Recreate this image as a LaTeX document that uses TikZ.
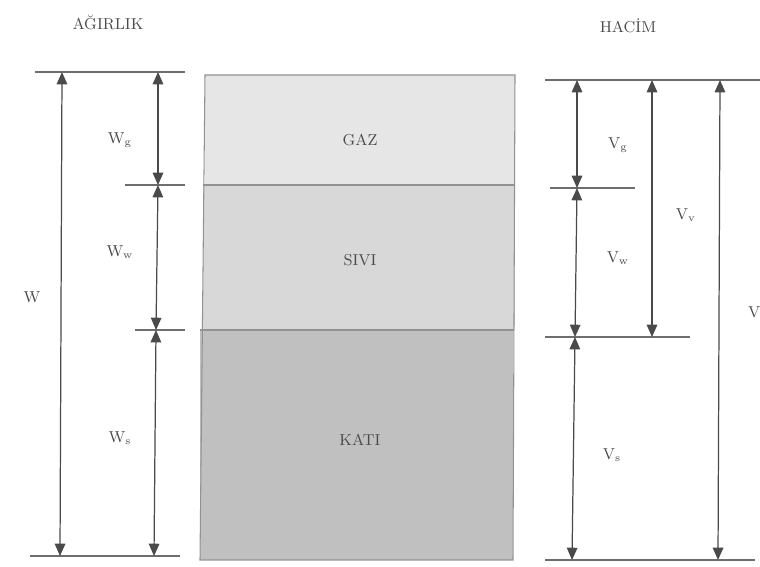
\documentclass[tikz,border=0pt]{standalone}
\usepackage{xcolor}
\usepackage{tikz}
\usetikzlibrary{positioning,arrows.meta,calc}
\definecolor{mInk}{HTML}{4A4A4A}
\definecolor{mGaz}{HTML}{E6E6E6}
\definecolor{mSivi}{HTML}{D8D8D8}
\definecolor{mKati}{HTML}{C0C0C0}

\begin{document}
\begin{tikzpicture}[x=0.02cm, y=-0.02cm, font=\small, text=mInk,
  dim/.style={draw=mInk, line width=0.7pt, {Triangle[length=7pt,width=6pt]}-{Triangle[length=7pt,width=6pt]}},
  rule/.style={draw=mInk!80, line width=0.6pt},
  lbl/.style={inner sep=1pt}]
\useasboundingbox (0,0) rectangle (760,566);
% phases
\fill[mGaz] (205,75) rectangle (515,185);
\fill[mSivi] (203,185) rectangle (515,330);
\fill[mKati] (200,330) rectangle (513,560);
\draw[rule, draw=mInk!60] (205,75) -- (515,75) -- (513,560) -- (200,560) -- cycle;
\draw[rule, draw=mInk!60] (203,185) -- (515,185);
\draw[rule, draw=mInk!60] (200,330) -- (514,330);
\node (gaz) at (360,140) {GAZ};
\node (sivi) at (360,260) {SIVI};
\node (kati) at (360,440) {KATI};
% titles
\node (agirlik) at (108,22) {AĞIRLIK};
\node (hacim) at (628,26) {HACİM};
% weight side
\coordinate (wt) at (62,72);  \coordinate (wb) at (60,556);
\coordinate (wg1) at (158,72); \coordinate (wg2) at (158,185);
\coordinate (ww2) at (156,330); \coordinate (ws2) at (154,556);
\draw[rule] (35,72) -- (185,72);
\draw[rule] (30,556) -- (180,556);
\draw[rule] (125,185) -- (185,185);
\draw[rule] (135,330) -- (185,330);
\draw[dim] (wt) -- (wb);
\draw[dim] (wg1) -- (wg2);
\draw[dim] (wg2) -- (ww2);
\draw[dim] (ww2) -- (ws2);
\node[lbl] (W) at (32,297) {W};
\node[lbl] (Wg) at (120,140) {W$_{\mathrm{g}}$};
\node[lbl] (Ww) at (120,252) {W$_{\mathrm{w}}$};
\node[lbl] (Ws) at (120,438) {W$_{\mathrm{s}}$};
% volume side
\coordinate (vg1) at (577,80); \coordinate (vg2) at (577,188);
\coordinate (vw2) at (575,337); \coordinate (vs2) at (572,560);
\coordinate (vv1) at (652,80); \coordinate (vv2) at (652,337);
\coordinate (v1) at (720,80); \coordinate (v2) at (718,560);
\draw[rule] (545,80) -- (760,80);
\draw[rule] (545,560) -- (755,560);
\draw[rule] (550,188) -- (635,188);
\draw[rule] (545,337) -- (690,337);
\draw[dim] (vg1) -- (vg2);
\draw[dim] (vg2) -- (vw2);
\draw[dim] (vw2) -- (vs2);
\draw[dim] (vv1) -- (vv2);
\draw[dim] (v1) -- (v2);
\node[lbl] (Vg) at (618,145) {V$_{\mathrm{g}}$};
\node[lbl] (Vw) at (618,258) {V$_{\mathrm{w}}$};
\node[lbl] (Vs) at (612,455) {V$_{\mathrm{s}}$};
\node[lbl] (Vv) at (686,215) {V$_{\mathrm{v}}$};
\node[lbl, anchor=west] (V) at (746,312) {V};
\end{tikzpicture}
\end{document}
